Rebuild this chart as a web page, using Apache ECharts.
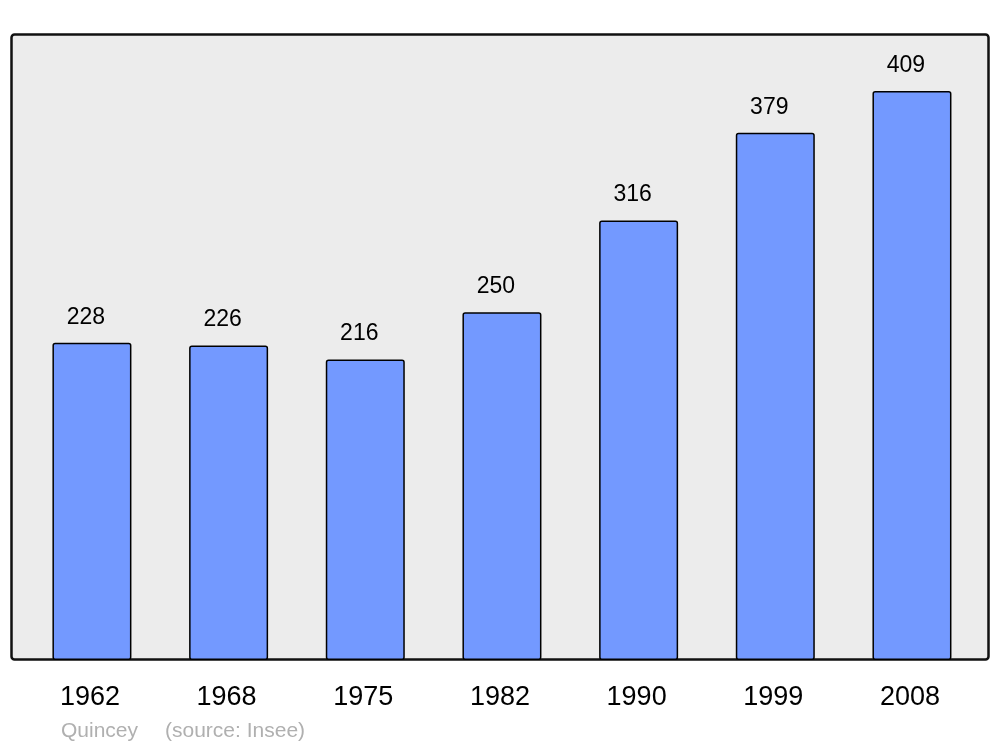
<!DOCTYPE html>
<html>
<head>
<meta charset="utf-8">
<script src="https://cdn.jsdelivr.net/npm/echarts@6/dist/echarts.min.js"></script>
<style>
html,body{margin:0;padding:0;background:#fff;}
#chart{width:1000px;height:747px;}
</style>
</head>
<body>
<div id="chart"></div>
<script>
const years = ['1962', '1968', '1975', '1982', '1990', '1999', '2008'];
const population = [228, 226, 216, 250, 316, 379, 409];
const placeName = 'Quincey';
const sourceText = '(source: Insee)';

const chart = echarts.init(document.getElementById('chart'), null, {renderer: 'canvas'});
const font = '"Liberation Sans", Arial, sans-serif';
chart.setOption({
  animation: false,
  backgroundColor: '#ffffff',
  grid: {left: 23.6, right: 19.7, top: 34, bottom: 87},
  xAxis: {
    type: 'category',
    data: years,
    axisLine: {show: false},
    axisTick: {show: false},
    axisLabel: {color: '#000', fontSize: 27, fontFamily: font, margin: 24, padding: [0, 4, 0, 0]}
  },
  yAxis: {
    type: 'value', min: 0, max: 450, show: false,
    splitLine: {show: false}
  },
  graphic: [
    {type: 'rect', z: -10, silent: true,
     shape: {x: 11.5, y: 34.5, width: 977, height: 625, r: 3},
     style: {fill: '#ececec', stroke: '#111', lineWidth: 2.5}},
    {type: 'text', left: 61, top: 721, silent: true,
     style: {text: placeName, fill: '#b0b0b0', font: '21px ' + font}},
    {type: 'text', left: 165, top: 721, silent: true,
     style: {text: sourceText, fill: '#b0b0b0', font: '21px ' + font}}
  ],
  series: [{
    type: 'bar',
    data: population,
    barWidth: 79,
    itemStyle: {color: '#7399ff', borderColor: '#000', borderWidth: 1.5, borderRadius: 2},
    label: {show: true, position: 'top', distance: 14, offset: [-6, 0], color: '#000', fontSize: 23, fontFamily: font}
  }]
});
</script>
</body>
</html>
